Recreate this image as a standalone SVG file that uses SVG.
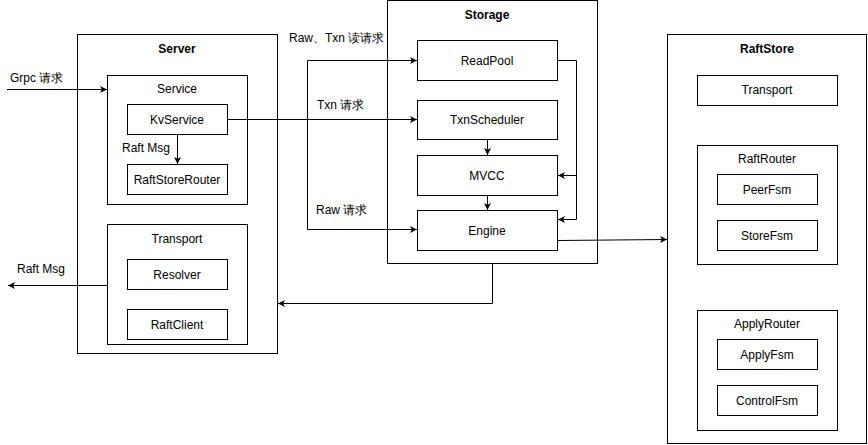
<svg xmlns="http://www.w3.org/2000/svg" width="868" height="445" viewBox="0 0 868 445">
<defs>
<marker id="arr" markerWidth="8" markerHeight="8" refX="7" refY="4" orient="auto" markerUnits="userSpaceOnUse">
<path d="M0,0.5 L7,4 L0,7.5 L1.8,4 z" fill="#000"/>
</marker>
<style>
rect{fill:#fff;stroke:#000;stroke-width:1}
text{font-family:"Liberation Sans",Arial,sans-serif;font-size:12px;fill:#000;text-anchor:middle}
.t{font-weight:bold}
.l{text-anchor:start}
.c{fill:none;stroke:#000;stroke-width:1;marker-end:url(#arr)}
.p{fill:none;stroke:#000;stroke-width:1}
</style>
</defs>
<rect x="0" y="0" width="868" height="445" style="stroke:none"/>
<g id="server">
<rect x="77.5" y="34.5" width="200" height="319"/>
<text class="t" x="177" y="53">Server</text>
</g>
<g id="service">
<rect x="107.5" y="75.5" width="140" height="129"/>
<text x="177" y="93">Service</text>
</g>
<g id="kvservice">
<rect x="127.5" y="104.5" width="100" height="30"/>
<text x="177" y="123.5">KvService</text>
</g>
<g id="raftstorerouter">
<rect x="127.5" y="164.5" width="100" height="30"/>
<text x="177" y="183.5">RaftStoreRouter</text>
</g>
<g id="server-transport">
<rect x="107.5" y="224.5" width="140" height="120"/>
<text x="177" y="243">Transport</text>
</g>
<g id="resolver">
<rect x="127.5" y="259.5" width="100" height="30"/>
<text x="177" y="278.5">Resolver</text>
</g>
<g id="raftclient">
<rect x="127.5" y="309.5" width="100" height="30"/>
<text x="177" y="328.5">RaftClient</text>
</g>
<g id="storage">
<rect x="387.5" y="0.5" width="210" height="263"/>
<text class="t" x="487" y="19">Storage</text>
</g>
<g id="readpool">
<rect x="417.5" y="40.5" width="140" height="40"/>
<text x="487" y="64.5">ReadPool</text>
</g>
<g id="txnscheduler">
<rect x="417.5" y="100.5" width="140" height="39"/>
<text x="487" y="124">TxnScheduler</text>
</g>
<g id="mvcc">
<rect x="417.5" y="155.5" width="140" height="40"/>
<text x="487" y="179.5">MVCC</text>
</g>
<g id="engine">
<rect x="417.5" y="210.5" width="140" height="40"/>
<text x="487" y="234.5">Engine</text>
</g>
<g id="raftstore">
<rect x="667.5" y="34.5" width="199" height="409"/>
<text class="t" x="767" y="53">RaftStore</text>
</g>
<g id="raftstore-transport">
<rect x="697.5" y="75.5" width="140" height="30"/>
<text x="767" y="94">Transport</text>
</g>
<g id="raftrouter">
<rect x="697.5" y="145.5" width="140" height="119"/>
<text x="767" y="163">RaftRouter</text>
</g>
<g id="peerfsm">
<rect x="717.5" y="174.5" width="100" height="30"/>
<text x="767" y="193.5">PeerFsm</text>
</g>
<g id="storefsm">
<rect x="717.5" y="220.5" width="100" height="30"/>
<text x="767" y="239.5">StoreFsm</text>
</g>
<g id="applyrouter">
<rect x="697.5" y="310.5" width="140" height="120"/>
<text x="767" y="328">ApplyRouter</text>
</g>
<g id="applyfsm">
<rect x="717.5" y="339.5" width="100" height="30"/>
<text x="767" y="358.5">ApplyFsm</text>
</g>
<g id="controlfsm">
<rect x="717.5" y="385.5" width="100" height="30"/>
<text x="767" y="404.5">ControlFsm</text>
</g>
<g id="connectors">
<path class="c" d="M7,89.5 L107,89.5"/>
<text class="l" x="10" y="82">Grpc 请求</text>
<path class="c" d="M177.5,134.5 L177.5,164"/>
<text class="l" x="122" y="152">Raft Msg</text>
<path class="c" d="M107,285.5 L8,285.5"/>
<text class="l" x="17" y="273">Raft Msg</text>
<path class="c" d="M227.5,119.5 L417,119.5"/>
<text class="l" x="317" y="109">Txn 请求</text>
<path class="c" d="M307.5,60.5 L417,60.5"/>
<path class="c" d="M307.5,60.5 L307.5,229.5 L417,229.5"/>
<text class="l" x="289" y="42">Raw、Txn 读请求</text>
<text class="l" x="316" y="214">Raw 请求</text>
<path class="c" d="M487.5,140 L487.5,155"/>
<path class="c" d="M487.5,195.5 L487.5,210"/>
<path class="c" d="M557.5,60.5 L576.5,60.5 L576.5,175.5 L558,175.5"/>
<path class="c" d="M576.5,175.5 L576.5,219.5 L558,219.5"/>
<path class="c" d="M557.5,240.5 L667,239.5"/>
<path class="c" d="M492.5,263.5 L492.5,303.5 L278,303.5"/>
</g>
</svg>
